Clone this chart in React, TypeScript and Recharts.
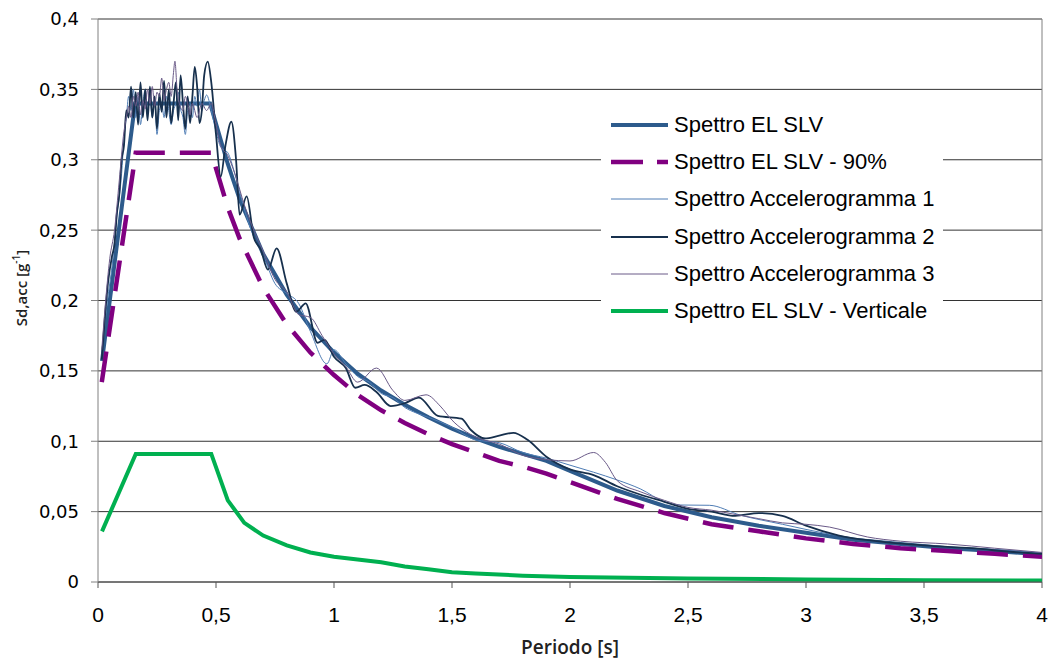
import { LineChart, Line, XAxis, YAxis, CartesianGrid, Legend, ReferenceLine, Label } from 'recharts';

// ascisse / ordinate: [Periodo (s), Sd (g)]
const periodTicks = [0, 0.5, 1, 1.5, 2, 2.5, 3, 3.5, 4];
const sdTicks = [0, 0.05, 0.1, 0.15, 0.2, 0.25, 0.3, 0.35, 0.4];

const spettroSLV = [
  [0.017, 0.157], [0.157, 0.34], [0.475, 0.34], [0.55, 0.297], [0.6, 0.272], [0.7, 0.233],
  [0.8, 0.204], [0.9, 0.181], [1.0, 0.163], [1.1, 0.148], [1.2, 0.136], [1.3, 0.126],
  [1.4, 0.117], [1.5, 0.109], [1.6, 0.102], [1.7, 0.096], [1.8, 0.091], [1.9, 0.086],
  [2.0, 0.079], [2.2, 0.065], [2.4, 0.054], [2.6, 0.046], [2.8, 0.04], [3.0, 0.035],
  [3.2, 0.03], [3.4, 0.027], [3.6, 0.024], [3.8, 0.022], [4.0, 0.0195],
];

const spettroSLV90 = [
  [0.016, 0.142], [0.16, 0.305], [0.48, 0.305], [0.55, 0.266], [0.6, 0.244], [0.7, 0.209],
  [0.8, 0.183], [0.9, 0.163], [1.0, 0.147], [1.1, 0.133], [1.2, 0.122], [1.3, 0.113],
  [1.4, 0.105], [1.5, 0.098], [1.6, 0.092], [1.7, 0.086], [1.8, 0.082], [1.9, 0.077],
  [2.0, 0.071], [2.2, 0.059], [2.4, 0.049], [2.6, 0.041], [2.8, 0.036], [3.0, 0.031],
  [3.2, 0.027], [3.4, 0.024], [3.6, 0.022], [3.8, 0.02], [4.0, 0.018],
];

const accelerogramma1 = [
  [0.016, 0.16], [0.04, 0.2], [0.06, 0.225], [0.08, 0.26], [0.1, 0.29], [0.11, 0.315],
  [0.12, 0.33], [0.13, 0.345], [0.14, 0.335], [0.15, 0.35], [0.16, 0.33], [0.17, 0.345],
  [0.18, 0.325], [0.19, 0.34], [0.2, 0.35], [0.21, 0.335], [0.22, 0.345], [0.23, 0.33],
  [0.24, 0.342], [0.25, 0.318], [0.26, 0.335], [0.27, 0.34], [0.28, 0.33], [0.29, 0.345],
  [0.3, 0.335], [0.31, 0.325], [0.32, 0.335], [0.33, 0.34], [0.34, 0.348], [0.35, 0.336],
  [0.36, 0.33], [0.37, 0.318], [0.38, 0.335], [0.39, 0.34], [0.4, 0.33], [0.41, 0.345],
  [0.42, 0.338], [0.43, 0.35], [0.44, 0.335], [0.45, 0.342], [0.46, 0.346], [0.48, 0.335],
  [0.5, 0.32], [0.52, 0.309], [0.55, 0.305], [0.58, 0.29], [0.62, 0.265], [0.66, 0.245],
  [0.7, 0.232], [0.75, 0.212], [0.8, 0.205], [0.85, 0.198], [0.9, 0.178], [0.97, 0.155],
  [1.0, 0.165], [1.05, 0.155], [1.1, 0.146], [1.15, 0.142], [1.2, 0.134], [1.25, 0.131],
  [1.3, 0.124], [1.35, 0.12], [1.4, 0.117], [1.5, 0.11], [1.6, 0.101], [1.7, 0.099],
  [1.8, 0.092], [1.9, 0.088], [2.0, 0.083], [2.1, 0.078], [2.2, 0.0725], [2.3, 0.066],
  [2.4, 0.057], [2.47, 0.0547], [2.59, 0.0545], [2.72, 0.0476], [2.9, 0.041], [3.1, 0.034],
  [3.3, 0.029], [3.5, 0.026], [3.7, 0.024], [3.9, 0.022], [4.0, 0.0205],
];

const accelerogramma2 = [
  [0.016, 0.158], [0.03, 0.19], [0.044, 0.215], [0.06, 0.232], [0.07, 0.24], [0.08, 0.262],
  [0.09, 0.275], [0.1, 0.3], [0.11, 0.31], [0.12, 0.335], [0.13, 0.33], [0.14, 0.352],
  [0.15, 0.33], [0.16, 0.348], [0.17, 0.325], [0.18, 0.355], [0.19, 0.33], [0.2, 0.35],
  [0.21, 0.328], [0.22, 0.352], [0.23, 0.33], [0.24, 0.345], [0.25, 0.322], [0.26, 0.347],
  [0.27, 0.334], [0.28, 0.356], [0.29, 0.33], [0.3, 0.35], [0.31, 0.326], [0.32, 0.34],
  [0.33, 0.355], [0.34, 0.328], [0.35, 0.36], [0.36, 0.34], [0.37, 0.322], [0.38, 0.345],
  [0.39, 0.326], [0.4, 0.345], [0.41, 0.366], [0.42, 0.352], [0.43, 0.326], [0.44, 0.335],
  [0.45, 0.36], [0.465, 0.3697], [0.48, 0.355], [0.5, 0.318], [0.52, 0.288], [0.54, 0.31],
  [0.565, 0.327], [0.585, 0.3], [0.6, 0.261], [0.63, 0.274], [0.66, 0.245], [0.69, 0.236],
  [0.72, 0.222], [0.757, 0.237], [0.8, 0.212], [0.84, 0.192], [0.88, 0.198], [0.93, 0.17],
  [0.96, 0.172], [1.0, 0.16], [1.05, 0.152], [1.09, 0.138], [1.13, 0.14], [1.18, 0.135],
  [1.24, 0.125], [1.3, 0.127], [1.36, 0.131], [1.44, 0.118], [1.54, 0.116], [1.58, 0.108],
  [1.64, 0.102], [1.7, 0.104], [1.76, 0.106], [1.82, 0.101], [1.9, 0.089], [2.0, 0.08],
  [2.1, 0.076], [2.2, 0.068], [2.3, 0.062], [2.4, 0.057], [2.5, 0.052], [2.6, 0.05],
  [2.7, 0.047], [2.8, 0.049], [2.9, 0.047], [3.0, 0.04], [3.14, 0.033], [3.3, 0.029],
  [3.5, 0.026], [3.7, 0.024], [3.9, 0.021], [4.0, 0.02],
];

const accelerogramma3 = [
  [0.016, 0.165], [0.03, 0.195], [0.05, 0.23], [0.07, 0.25], [0.09, 0.285], [0.11, 0.32],
  [0.12, 0.33], [0.13, 0.338], [0.14, 0.33], [0.15, 0.345], [0.16, 0.338], [0.17, 0.348],
  [0.18, 0.332], [0.19, 0.342], [0.2, 0.336], [0.21, 0.35], [0.22, 0.34], [0.23, 0.352],
  [0.24, 0.338], [0.25, 0.348], [0.26, 0.345], [0.27, 0.358], [0.28, 0.342], [0.29, 0.35],
  [0.3, 0.355], [0.31, 0.345], [0.32, 0.362], [0.326, 0.37], [0.335, 0.35], [0.345, 0.34],
  [0.36, 0.335], [0.37, 0.345], [0.38, 0.34], [0.39, 0.332], [0.4, 0.34], [0.42, 0.33],
  [0.44, 0.34], [0.46, 0.335], [0.48, 0.34], [0.5, 0.325], [0.52, 0.31], [0.55, 0.303],
  [0.58, 0.29], [0.62, 0.268], [0.66, 0.25], [0.7, 0.235], [0.75, 0.215], [0.8, 0.206],
  [0.85, 0.19], [0.9, 0.188], [0.95, 0.175], [1.0, 0.162], [1.05, 0.153], [1.1, 0.142],
  [1.18, 0.152], [1.25, 0.136], [1.3, 0.129], [1.39, 0.133], [1.45, 0.125], [1.5, 0.115],
  [1.6, 0.103], [1.7, 0.098], [1.8, 0.09], [1.9, 0.087], [2.0, 0.086], [2.1, 0.092],
  [2.15, 0.085], [2.2, 0.072], [2.3, 0.064], [2.4, 0.058], [2.5, 0.053], [2.6, 0.051],
  [2.7, 0.048], [2.8, 0.045], [2.9, 0.042], [3.0, 0.041], [3.1, 0.039], [3.26, 0.032],
  [3.4, 0.029], [3.6, 0.027], [3.8, 0.024], [4.0, 0.021],
];

const spettroVerticale = [
  [0.017, 0.036], [0.16, 0.091], [0.48, 0.091], [0.55, 0.058], [0.62, 0.042], [0.7, 0.033],
  [0.8, 0.026], [0.9, 0.021], [1.0, 0.018], [1.1, 0.016], [1.2, 0.014], [1.3, 0.011],
  [1.4, 0.009], [1.5, 0.007], [1.6, 0.006], [1.8, 0.0045], [2.0, 0.0035], [2.5, 0.0025],
  [3.0, 0.0018], [3.5, 0.0013], [4.0, 0.001],
];

const toPoints = (rows: number[][]) => rows.map(([x, y]) => ({ x, y }));
const comma = (v: number) => String(v).replace('.', ',');

const series = [
  { name: 'Spettro EL SLV', rows: spettroSLV, color: '#2d5b8c', width: 4, dash: undefined, curve: 'linear' },
  { name: 'Spettro EL SLV - 90%', rows: spettroSLV90, color: '#800080', width: 4.5, dash: '31 15', curve: 'linear' },
  { name: 'Spettro Accelerogramma 1', rows: accelerogramma1, color: '#4f7db5', width: 1, dash: undefined, curve: 'monotone' },
  { name: 'Spettro Accelerogramma 2', rows: accelerogramma2, color: '#17304d', width: 1.8, dash: undefined, curve: 'monotone' },
  { name: 'Spettro Accelerogramma 3', rows: accelerogramma3, color: '#6a5a88', width: 1, dash: undefined, curve: 'monotone' },
  { name: 'Spettro EL SLV - Verticale', rows: spettroVerticale, color: '#00b050', width: 4, dash: undefined, curve: 'linear' },
];

function SpectrumLegend() {
  return (
    <div style={{ background: '#fff', width: 342, height: 224 }}>
      {series.map(s => (
        <div key={s.name} style={{ height: 37.3, display: 'flex', alignItems: 'center' }}>
          <svg width={67} height={12} style={{ flex: 'none' }}>
            <line
              x1={10}
              x2={67}
              y1={6}
              y2={6}
              stroke={s.color}
              strokeWidth={s.width}
              strokeDasharray={s.dash ? '32 14' : undefined}
            />
          </svg>
          <span style={{ marginLeft: 6, fontFamily: '"Liberation Sans", Arial, sans-serif', fontSize: 22, color: '#000', whiteSpace: 'nowrap' }}>
            {s.name}
          </span>
        </div>
      ))}
    </div>
  );
}

export default function App() {
  return (
    <div style={{ position: 'absolute', left: 0, top: 0, background: '#fff' }}>
      <LineChart width={1051} height={660} margin={{ top: 19, right: 9, left: 0, bottom: 0 }}>
        <CartesianGrid vertical={false} stroke="#333" horizontalValues={sdTicks} />
        <XAxis
          dataKey="x"
          type="number"
          domain={[0, 4]}
          ticks={periodTicks}
          tickFormatter={comma}
          height={78}
          tickSize={6}
          tickMargin={19}
          stroke="#555"
          tick={{ fontSize: 21, fontFamily: '"Liberation Sans", Arial', fill: '#000' }}
          allowDataOverflow
        >
          <Label
            content={() => (
              <text x={570} y={654} textAnchor="middle" fontFamily='"Open Sans"' fontSize={19} fontWeight={600} fill="#222">
                Periodo [s]
              </text>
            )}
          />
        </XAxis>
        <YAxis
          type="number"
          domain={[0, 0.4]}
          ticks={sdTicks}
          tickFormatter={comma}
          width={98}
          tickSize={7}
          tickMargin={12}
          stroke="#808080"
          tick={{ fontSize: 18, fontFamily: '"DejaVu Sans"', fill: '#000' }}
          allowDataOverflow
        >
          <Label
            content={() => (
              <text
                x={21}
                y={288}
                transform="rotate(-90, 21, 288)"
                textAnchor="middle"
                dominantBaseline="central"
                fontFamily='"Open Sans"'
                fontSize={15}
                fontWeight={600}
                fill="#222"
              >
                Sd,acc [g<tspan dy={-5} fontSize={10}>-1</tspan><tspan dy={5}>]</tspan>
              </text>
            )}
          />
        </YAxis>
        <ReferenceLine x={4} stroke="#808080" />
        {series.map(s => (
          <Line
            key={s.name}
            name={s.name}
            data={toPoints(s.rows)}
            dataKey="y"
            type={s.curve as 'linear' | 'monotone'}
            stroke={s.color}
            strokeWidth={s.width}
            strokeDasharray={s.dash}
            dot={false}
            activeDot={false}
            isAnimationActive={false}
          />
        ))}
        <Legend
          layout="horizontal"
          verticalAlign="middle"
          align="center"
          content={() => <SpectrumLegend />}
          wrapperStyle={{ left: 601, top: 106, width: 342, height: 224 }}
        />
      </LineChart>
    </div>
  );
}
